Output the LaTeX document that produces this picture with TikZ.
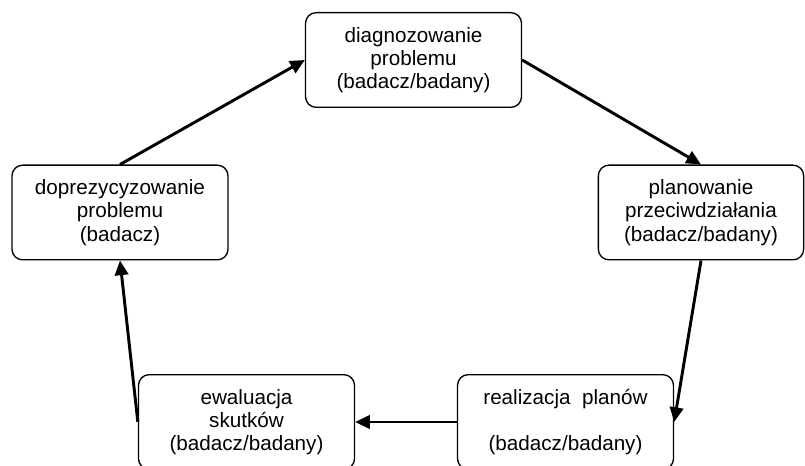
\documentclass[tikz,border=0pt]{standalone}
\usepackage{fontspec}
\setmainfont{Liberation Sans}
\usetikzlibrary{arrows.meta}
\begin{document}
\begin{tikzpicture}[x=0.75pt, y=-0.75pt, line join=round, >={Triangle[length=11pt,width=10pt]},
		stage/.style={draw, rounded corners=8pt, line width=1pt, minimum width=162pt, minimum height=71pt, align=center, font=\fontsize{15.5}{17.5}\selectfont},
		flow/.style={->, line width=2.2pt}]
		\useasboundingbox (0,0) rectangle (805,466);
		\clip (0,0) rectangle (805,466);
		\node[stage] (diag) at (413.5,60) {diagnozowanie\\problemu\\(badacz/badany)};
		\node[stage, minimum width=154pt] (plan) at (701,212.5) {planowanie\\przeciwdziałania\\(badacz/badany)};
		\node[stage] (real) at (565.5,422) {realizacja\ \ planów\\~\\(badacz/badany)};
		\node[stage] (ewal) at (246.5,422) {ewaluacja\\skutków\\(badacz/badany)};
		\node[stage] (dopr) at (120,212.5) {doprezycyzowanie\\problemu\\(badacz)};
		\draw[flow] (diag.east)--(plan.north);
		\draw[flow] (plan.south)--(real.east);
		\draw[flow] (real.west)--(ewal.east);
		\draw[flow] (ewal.west)--(dopr.south);
		\draw[flow] (dopr.north)--(diag.west);
\end{tikzpicture}
\end{document}
